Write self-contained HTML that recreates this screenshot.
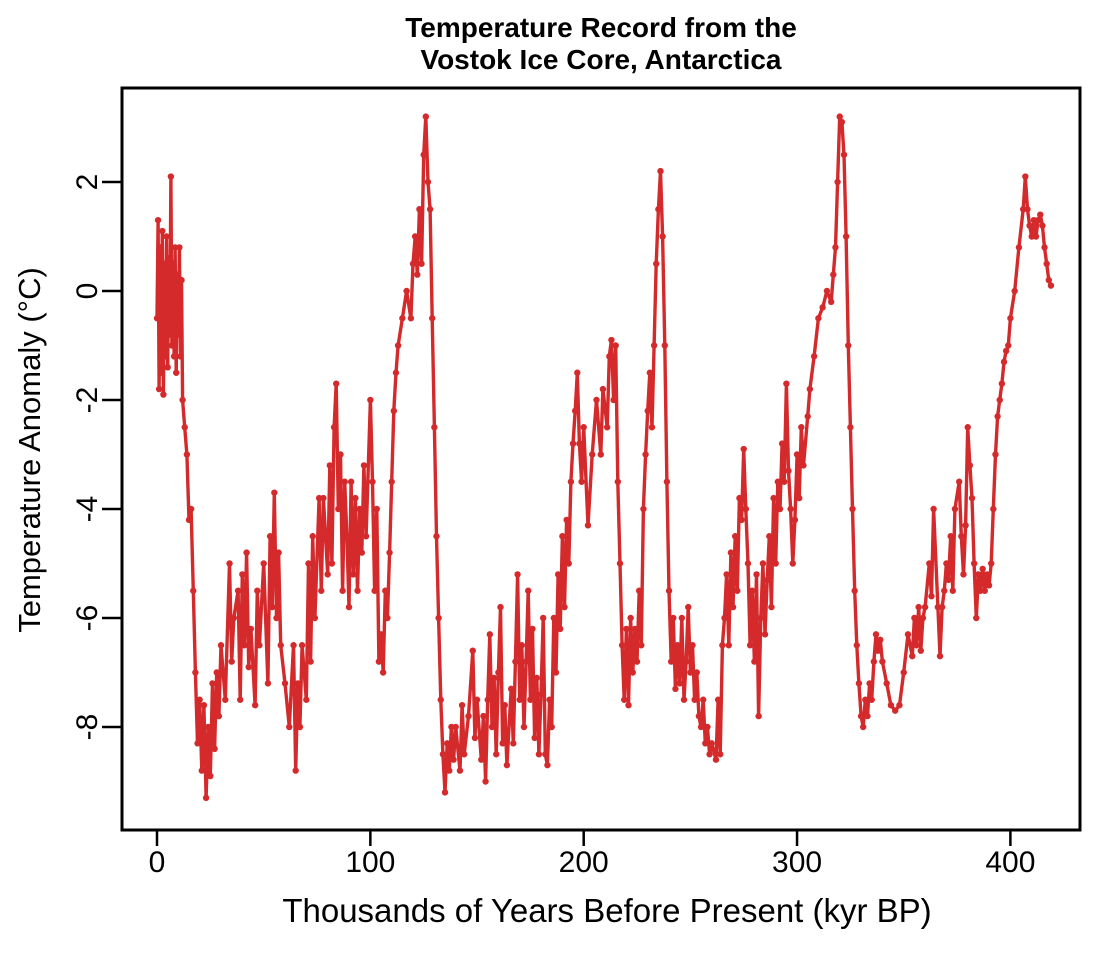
<!DOCTYPE html>
<html><head><meta charset="utf-8"><style>
html,body{margin:0;padding:0;background:#fff;}
svg{display:block;font-family:"Liberation Sans",Arial,sans-serif;}
</style></head><body>
<svg id="chart" width="1099" height="958" viewBox="0 0 1099 958">
<text x="601" y="37" text-anchor="middle" font-size="28" font-weight="bold">Temperature Record from the</text>
<text x="601" y="69" text-anchor="middle" font-size="28" font-weight="bold">Vostok Ice Core, Antarctica</text>
<rect x="122" y="88" width="958" height="742" fill="none" stroke="#000" stroke-width="3"/>
<g id="xaxis"></g>
<g id="yaxis"></g>
<text x="607" y="922" text-anchor="middle" font-size="33">Thousands of Years Before Present (kyr BP)</text>
<text transform="translate(40,450) rotate(-90)" text-anchor="middle" font-size="31">Temperature Anomaly (°C)</text>
<g id="series"></g>
</svg>
<script>
const xTicks=[0,100,200,300,400];
const yTicks=[2,0,-2,-4,-6,-8];
const ages=[0,0.5,1,1.5,2,2.5,3,3.5,4,4.5,5,5.5,6,6.5,7,7.5,8,8.5,9,9.5,10,10.5,11,11.5,12,13,14,15,16,17,18,19,20,21,22,23,24,25,26,27,28,29,30,32,34,35,36,38,39,40,41,42,43,44,46,47,48,50,52,53,54,55,56,57,58,60,62,64,65,66,67,68,70,71,72,73,74,76,77,78,80,81,82,83,84,85,86,87,88,89,90,91,92,93,94,95,96,97,98,100,101,102,103,104,105,106,107,108,109,110,111,112,113,115,117,119,120,121,122,123,124,125,126,127,128,129,130,131,132,133,134,135,136,137,138,139,140,142,143,144,146,148,149,150,152,153,154,155,156,157,158,159,160,161,162,163,164,166,167,168,169,170,171,172,173,174,175,176,177,178,179,180,181,182,183,184,185,186,187,188,189,190,191,192,193,194,195,196,197,198,199,200,202,204,206,208,209,211,212,213,214,215,216,217,218,219,220,221,222,223,224,225,226,227,228,229,230,231,232,233,234,235,236,237,238,239,240,241,242,243,244,245,246,247,248,249,250,251,252,253,254,255,256,257,258,259,260,262,263,264,265,266,267,268,269,270,271,272,273,274,275,276,277,278,279,280,281,282,283,284,285,286,287,288,289,290,291,292,293,294,295,296,297,298,299,300,301,302,303,305,306,308,310,312,314,316,317,318,319,320,321,322,323,324,325,326,327,328,329,330,331,332,333,334,335,336,337,338,339,340,342,344,346,348,350,352,354,355,356,357,358,359,360,362,363,364,366,367,368,369,370,371,372,373,374,376,377,378,379,380,381,382,383,384,385,386,387,388,389,390,391,392,393,394,395,396,397,398,399,400,402,404,406,407,408,409,410,411,412,413,414,415,416,417,418,419,420];
const temps=[-0.5,1.3,-1.8,0.8,-1.5,1.1,-1.9,0.5,-1.2,1.0,-1.4,0.6,-0.8,2.1,-1.0,0.5,-1.2,0.8,-1.5,0.3,-0.8,0.8,-1.2,0.2,-2.0,-2.5,-3.0,-4.2,-4.0,-5.5,-7.0,-8.3,-7.5,-8.8,-7.6,-9.3,-8.0,-8.9,-7.2,-8.4,-7.0,-7.8,-6.5,-7.5,-5.0,-6.8,-6.0,-5.5,-7.5,-5.2,-6.5,-4.8,-6.9,-6.2,-7.6,-5.5,-6.5,-5.0,-7.2,-4.5,-5.8,-3.7,-6.0,-4.8,-6.5,-7.2,-8.0,-6.5,-8.8,-7.2,-8.0,-6.5,-7.5,-5.0,-6.8,-4.5,-6.0,-3.8,-5.5,-3.8,-5.2,-3.2,-5.0,-2.5,-1.7,-4.0,-3.0,-5.5,-3.5,-4.5,-5.8,-3.5,-5.2,-3.8,-5.5,-4.0,-4.8,-3.2,-4.5,-2.0,-3.5,-5.5,-4.0,-6.8,-6.3,-7.0,-5.5,-6.0,-4.8,-3.5,-2.2,-1.5,-1.0,-0.5,0.0,-0.5,0.5,1.0,0.3,1.5,0.5,2.5,3.2,2.0,1.5,-0.5,-2.5,-4.5,-6.0,-7.5,-8.5,-9.2,-8.3,-8.8,-8.0,-8.6,-8.0,-8.8,-7.6,-8.5,-7.8,-6.6,-8.2,-7.5,-8.6,-7.8,-9.0,-7.5,-6.3,-8.0,-7.1,-8.5,-7.0,-5.8,-8.3,-7.6,-8.7,-7.3,-8.3,-6.8,-5.2,-7.5,-6.5,-8.0,-6.8,-5.5,-7.5,-6.2,-8.2,-7.1,-8.5,-7.4,-6.0,-8.5,-8.7,-7.5,-8.0,-6.0,-7.0,-5.2,-6.2,-4.5,-5.8,-4.2,-5.0,-3.5,-2.8,-2.2,-1.5,-2.8,-3.5,-2.5,-4.3,-3.0,-2.0,-3.0,-1.8,-2.5,-1.2,-0.9,-2.0,-1.0,-3.5,-5.0,-6.5,-7.5,-6.2,-7.6,-6.0,-7.0,-6.2,-6.8,-5.5,-6.5,-4.0,-3.0,-2.2,-1.5,-2.5,-1.0,0.5,1.5,2.2,1.0,-1.0,-3.5,-5.5,-6.8,-6.0,-7.3,-6.5,-7.2,-6.0,-7.5,-6.8,-5.8,-7.0,-6.5,-7.5,-7.0,-7.8,-8.0,-7.5,-8.3,-8.0,-8.5,-8.3,-8.6,-7.5,-8.5,-6.5,-6.0,-5.2,-6.5,-4.8,-5.8,-4.5,-5.5,-3.8,-4.2,-2.9,-4.0,-5.0,-6.5,-5.5,-6.8,-5.2,-7.8,-6.0,-5.0,-6.3,-5.3,-4.5,-5.8,-3.8,-5.0,-3.5,-4.0,-2.8,-3.5,-1.7,-3.3,-4.0,-5.0,-4.2,-3.0,-3.8,-2.5,-3.2,-2.3,-1.8,-1.2,-0.5,-0.3,0.0,-0.2,0.3,0.8,2.0,3.2,3.1,2.5,1.0,-1.0,-2.5,-4.0,-5.5,-6.5,-7.2,-7.8,-8.0,-7.5,-7.8,-7.2,-7.5,-6.8,-6.3,-6.6,-6.4,-6.8,-7.2,-7.6,-7.7,-7.6,-7.0,-6.3,-6.7,-6.0,-6.5,-5.8,-6.6,-6.0,-5.8,-5.0,-5.6,-4.0,-5.8,-6.7,-5.8,-5.5,-5.0,-5.3,-4.5,-5.5,-4.0,-3.5,-4.5,-5.2,-4.3,-2.5,-3.2,-3.8,-5.0,-6.0,-5.2,-5.5,-5.1,-5.5,-5.2,-5.4,-5.0,-4.0,-3.0,-2.3,-2.0,-1.7,-1.3,-1.1,-1.0,-0.5,0.0,0.8,1.5,2.1,1.5,1.2,1.0,1.3,1.0,1.3,1.4,1.2,0.8,0.5,0.2,0.1];

const NS='http://www.w3.org/2000/svg';
function xs(v){return 157+v*2.1335;}
function ys(v){return 291-v*54.5;}
function mk(tag,attrs,parent){const e=document.createElementNS(NS,tag);for(const k in attrs)e.setAttribute(k,attrs[k]);parent.appendChild(e);return e;}
const xg=document.getElementById('xaxis'),yg=document.getElementById('yaxis'),sg=document.getElementById('series');
xTicks.forEach(t=>{
  const l=mk('line',{x1:xs(t),x2:xs(t),y1:830,y2:846,stroke:'#000','stroke-width':2.5},xg);
  
  
  const tx=mk('text',{x:xs(t),y:872,'text-anchor':'middle','font-size':30},xg);
  tx.textContent=t;
  
  
});
yTicks.forEach(t=>{
  const l=mk('line',{x1:102,x2:122,y1:ys(t),y2:ys(t),stroke:'#000','stroke-width':2.5},yg);
  
  
  const tx=mk('text',{transform:`translate(97,${ys(t)}) rotate(-90)`,'text-anchor':'middle','font-size':30},yg);
  tx.textContent=t;
  
  
});
const n=Math.min(ages.length,temps.length);
let d='';
for(let i=0;i<n;i++){d+=(i?'L':'M')+xs(ages[i]).toFixed(1)+','+ys(temps[i]).toFixed(1);}
const p=mk('path',{d:d,fill:'none',stroke:'#d42a2c','stroke-width':3.4,'stroke-linejoin':'round'},sg);


for(let i=0;i<n;i++){
  const c=mk('circle',{cx:xs(ages[i]),cy:ys(temps[i]),r:3.2,fill:'#d42a2c'},sg);
  
  
}
</script>
</body></html>
